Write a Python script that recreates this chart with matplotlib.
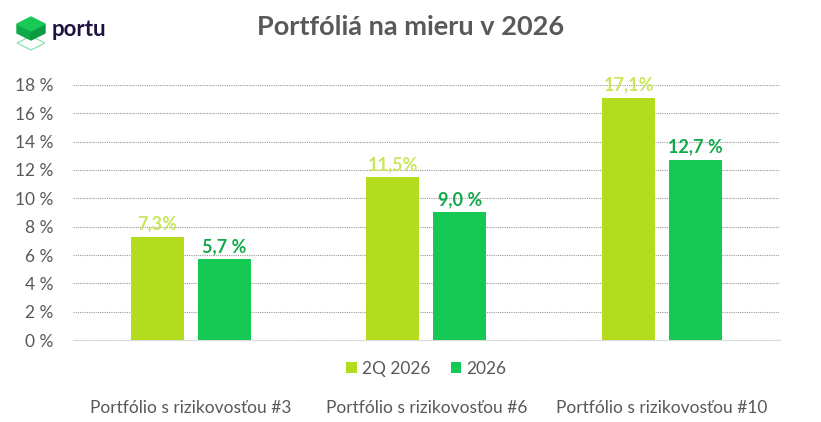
import matplotlib.pyplot as plt
from matplotlib.patches import Polygon
import numpy as np

categories = ["Portfólio s rizikovosťou #3", "Portfólio s rizikovosťou #6", "Portfólio s rizikovosťou #10"]
q2_2026 = [7.3, 11.5, 17.1]
y2026 = [5.7, 9.0, 12.7]
q2_labels = ["7,3%", "11,5%", "17,1%"]
y_labels = ["5,7 %", "9,0 %", "12,7 %"]
series_names = ["2Q 2026", "2026"]

lime = "#b3dc1e"
green = "#16c955"

plt.rcParams['font.family'] = ['Lato', 'DejaVu Sans']
fig = plt.figure(figsize=(8.21, 4.22), dpi=100)
ax = fig.add_axes([0.0889, 0.194, 0.861, 0.605])

x = np.arange(len(categories))
w = 0.225
off = 0.142
ax.bar(x - off, q2_2026, w, color=lime, label=series_names[0], zorder=3)
ax.bar(x + off, y2026, w, color=green, label=series_names[1], zorder=3)
for xi, v, t in zip(x, q2_2026, q2_labels):
    ax.text(xi - off, v + 0.3, t, ha='center', va='bottom', color="#c9e65c",
            fontsize=13, fontweight='bold')
for xi, v, t in zip(x, y2026, y_labels):
    ax.text(xi + off, v + 0.3, t, ha='center', va='bottom', color="#13a94a",
            fontsize=13, fontweight='bold')

ax.set_xlim(-0.5, 2.5)
ax.set_ylim(0, 18)
ax.set_yticks(range(0, 19, 2))
ax.set_yticklabels([f"{v} %" for v in range(0, 19, 2)], color="#595959", fontsize=12.5)
ax.yaxis.grid(True, color="#999999", linestyle=(0, (1, 1)), linewidth=0.8, zorder=0)
ax.set_xticks(x)
ax.set_xticklabels(categories, color="#595959", fontsize=12.5)
ax.tick_params(axis='x', length=0, pad=43)
ax.tick_params(axis='y', length=0, pad=14)
for s in ["top", "right", "left"]:
    ax.spines[s].set_visible(False)
ax.spines["bottom"].set_color("#d9d9d9")

ax.legend(loc='upper center', bbox_to_anchor=(0.5, -0.02), ncol=2, frameon=False,
          fontsize=12.5, handlelength=0.6, handleheight=0.6, handletextpad=0.3,
          columnspacing=1.2, labelcolor="#595959")

fig.text(0.5, 0.935, "Portfóliá na mieru v 2026", ha='center', va='center',
         fontsize=19.5, fontweight='bold', color="#595959")

# logo
def px(xp, yp):
    return (xp / 821, 1 - yp / 422)
fig.patches.append(Polygon([px(17, 43), px(31, 50), px(45, 43), px(31, 36)], closed=True,
                           fill=False, edgecolor="#7fe0a0", linewidth=0.8, transform=fig.transFigure))
fig.patches.append(Polygon([px(17, 24), px(31, 31), px(31, 40), px(17, 33)], closed=True,
                           color="#0fa84a", transform=fig.transFigure))
fig.patches.append(Polygon([px(31, 31), px(45, 24), px(45, 33), px(31, 40)], closed=True,
                           color="#0c9a42", transform=fig.transFigure))
fig.patches.append(Polygon([px(17, 24), px(31, 17), px(45, 24), px(31, 31)], closed=True,
                           color="#18c957", transform=fig.transFigure))
fig.text(52 / 821, 1 - 30 / 422, "portu", ha='left', va='center', fontsize=16,
         fontweight='bold', color="#1e1240")

fig.savefig("out.png", dpi=100)
